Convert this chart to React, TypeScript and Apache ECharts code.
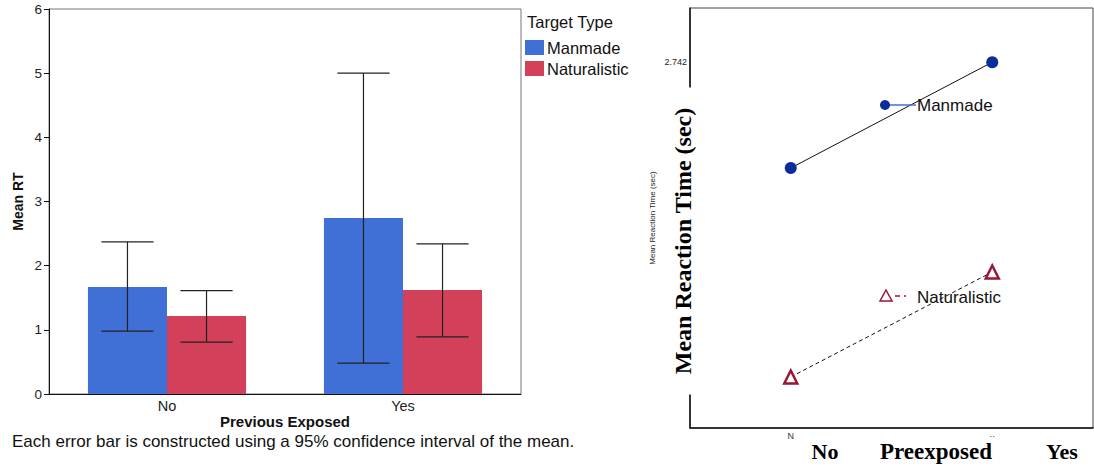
import React, { useEffect, useRef } from "react";
import * as echarts from "echarts";

const categories = ["No", "Yes"];
const seriesNames = ["Manmade", "Naturalistic"];
const manmadeMeans = [1.667, 2.742];
const naturalMeans = [1.215, 1.62];
const manmadeLow = [0.98, 0.48];
const manmadeHigh = [2.37, 5.0];
const naturalLow = [0.81, 0.89];
const naturalHigh = [1.61, 2.34];
const leftTicks = [0, 1, 2, 3, 4, 5, 6];

// right panel (profile plot)
const profileManmade = [2.238, 2.742];
const profileNatural = [1.243, 1.743];
const profileTickValues = [2.742];
const profileXLabels = ["N", "··"];
const bigXLabels = ["No", "Preexposed", "Yes"];

const BLUE = "#4070D6";
const RED = "#D2405A";
const SANS = "Liberation Sans, Arial, Helvetica, sans-serif";
const SERIF = "Liberation Serif, Times New Roman, serif";

export default function App() {
  const ref = useRef<HTMLDivElement>(null);
  useEffect(() => {
    if (!ref.current) return;
    const chart = echarts.init(ref.current, undefined, { renderer: "svg" });
    const errData: number[][] = [];
    categories.forEach((_, i) => {
      errData.push([i, manmadeLow[i], manmadeHigh[i], 0]);
      errData.push([i, naturalLow[i], naturalHigh[i], 1]);
    });
    const option: any = {
      animation: false,
      backgroundColor: "#fff",
      textStyle: { fontFamily: SANS },
      grid: [
        { left: 49, top: 9, right: 573, bottom: 81, show: true, borderColor: "#777", borderWidth: 1, backgroundColor: "transparent" },
        { left: 690, top: 8, right: 1, bottom: 47, show: true, borderColor: "#444", borderWidth: 1, backgroundColor: "transparent" },
      ],
      legend: {
        data: seriesNames,
        orient: "vertical",
        left: 520,
        top: 34,
        itemWidth: 19,
        itemHeight: 15,
        itemGap: 4,
        icon: "rect",
        textStyle: { fontSize: 16.5, color: "#111", fontFamily: SANS, padding: [0, 0, 0, -2] },
      },
      xAxis: [
        {
          gridIndex: 0,
          type: "category",
          data: categories,
          axisLine: { lineStyle: { color: "#111" } },
          axisTick: { show: false },
          axisLabel: { fontSize: 14.5, color: "#222", margin: 4 },
          name: "Previous Exposed",
          nameLocation: "middle",
          nameGap: 20,
          nameMoveOverlap: false,
          nameTextStyle: { fontSize: 15, fontWeight: "bold", color: "#111" },
        },
        {
          gridIndex: 1,
          type: "category",
          data: categories,
          axisLine: { lineStyle: { color: "#111", width: 1.5 } },
          axisTick: { show: false },
          axisLabel: {
            fontSize: 9,
            color: "#333",
            margin: 3,
            formatter: (_v: string, i: number) => profileXLabels[i],
          },
        },
      ],
      yAxis: [
        {
          gridIndex: 0,
          type: "value",
          min: leftTicks[0],
          max: leftTicks[leftTicks.length - 1],
          interval: 1,
          splitLine: { show: false },
          axisLine: { show: true, lineStyle: { color: "#111" } },
          axisTick: { show: true, length: 5, lineStyle: { color: "#111" } },
          axisLabel: { fontSize: 13.5, color: "#222", margin: 7 },
          name: "Mean RT",
          nameLocation: "middle",
          nameGap: 24,
          nameTextStyle: { fontSize: 14, fontWeight: "bold", color: "#111" },
        },
        {
          gridIndex: 1,
          type: "value",
          min: 1,
          max: 3,
          splitLine: { show: false },
          axisLine: { show: true, lineStyle: { color: "#111", width: 1.5 } },
          axisTick: { show: false },
          axisLabel: {
            fontSize: 9,
            color: "#222",
            margin: 3,
            customValues: profileTickValues,
            formatter: (v: number) => v.toFixed(3),
          },
          name: "Mean Reaction Time (sec)",
          nameLocation: "middle",
          nameGap: 34,
          nameTextStyle: { fontSize: 8, color: "#222" },
        },
      ],
      series: [
        {
          name: seriesNames[0],
          type: "bar",
          xAxisIndex: 0,
          yAxisIndex: 0,
          data: manmadeMeans,
          itemStyle: { color: BLUE },
          barGap: "0%",
          barCategoryGap: "33%",
        },
        {
          name: seriesNames[1],
          type: "bar",
          xAxisIndex: 0,
          yAxisIndex: 0,
          data: naturalMeans,
          itemStyle: { color: RED },
          barGap: "0%",
          barCategoryGap: "33%",
        },
        {
          type: "custom",
          xAxisIndex: 0,
          yAxisIndex: 0,
          data: errData,
          z: 10,
          renderItem: (_p: any, api: any) => {
            const cat = api.value(0);
            const lo = api.value(1);
            const hi = api.value(2);
            const s = api.value(3);
            const band = api.size([1, 0])[0];
            const barW = (band * 0.67) / 2;
            const cx = api.coord([cat, 0])[0] + (s === 0 ? -barW / 2 : barW / 2);
            const yLo = api.coord([cat, lo])[1];
            const yHi = api.coord([cat, hi])[1];
            const half = barW * 0.33;
            const st = { stroke: "#222", lineWidth: 1.2 };
            return {
              type: "group",
              children: [
                { type: "line", shape: { x1: cx, y1: yLo, x2: cx, y2: yHi }, style: st },
                { type: "line", shape: { x1: cx - half, y1: yHi, x2: cx + half, y2: yHi }, style: st },
                { type: "line", shape: { x1: cx - half, y1: yLo, x2: cx + half, y2: yLo }, style: st },
              ],
            };
          },
        },
        {
          name: "Manmade profile",
          type: "line",
          xAxisIndex: 1,
          yAxisIndex: 1,
          data: profileManmade,
          symbol: "circle",
          symbolSize: 12,
          itemStyle: { color: "#0B2D9A" },
          lineStyle: { color: "#111", width: 1 },
          z: 5,
        },
        {
          name: "Naturalistic profile",
          type: "line",
          xAxisIndex: 1,
          yAxisIndex: 1,
          data: profileNatural,
          symbol: "triangle",
          symbolSize: 13,
          itemStyle: { color: "#fff", borderColor: "#9B1535", borderWidth: 2.5 },
          lineStyle: { color: "#111", width: 1, type: [4, 3] },
          z: 5,
        },
      ],
      graphic: [
        { type: "text", left: 527, top: 13, style: { text: "Target Type", fontSize: 16.5, fill: "#111", fontFamily: SANS } },
        {
          type: "text",
          x: 12,
          y: 441,
          style: {
            text: "Each error bar is constructed using a 95% confidence interval of the mean.",
            fontSize: 17,
            fill: "#111",
            fontFamily: SANS,
            verticalAlign: "middle",
          },
        },
        {
          type: "text",
          x: 683,
          y: 241,
          rotation: Math.PI / 2,
          z: 100,
          style: {
            text: "Mean Reaction Time (sec)",
            fontSize: 24,
            fontWeight: "bold",
            fontFamily: SERIF,
            fill: "#000",
            align: "center",
            verticalAlign: "middle",
            backgroundColor: "#fff",
            padding: [0, 20, 0, 20],
          },
        },
        { type: "text", x: 825, y: 451, style: { text: bigXLabels[0], fontSize: 22, fontWeight: "bold", fontFamily: SERIF, fill: "#000", align: "center", verticalAlign: "middle" } },
        { type: "text", x: 936, y: 451, style: { text: bigXLabels[1], fontSize: 23, fontWeight: "bold", fontFamily: SERIF, fill: "#000", align: "center", verticalAlign: "middle" } },
        { type: "text", x: 1062, y: 451, style: { text: bigXLabels[2], fontSize: 22, fontWeight: "bold", fontFamily: SERIF, fill: "#000", align: "center", verticalAlign: "middle" } },
        // in-plot legend (right panel)
        { type: "line", z: 20, shape: { x1: 885, y1: 105, x2: 916, y2: 105 }, style: { stroke: "#4A6BD0", lineWidth: 1.5 } },
        { type: "circle", z: 21, shape: { cx: 885, cy: 105, r: 5 }, style: { fill: "#0B2D9A" } },
        { type: "text", z: 21, x: 917, y: 105, style: { text: "Manmade", fontSize: 17, fill: "#111", fontFamily: SANS, verticalAlign: "middle" } },
        { type: "line", z: 20, shape: { x1: 895, y1: 296, x2: 906, y2: 296 }, style: { stroke: "#9B1535", lineWidth: 1.3, lineDash: [5, 4] } },
        { type: "polygon", z: 21, shape: { points: [[886, 290], [880, 301], [892, 301]] }, style: { fill: "#fff", stroke: "#9B1535", lineWidth: 1.5 } },
        { type: "text", z: 21, x: 917, y: 297, style: { text: "Naturalistic", fontSize: 17, fill: "#111", fontFamily: SANS, verticalAlign: "middle" } },
      ],
    };
    chart.setOption(option);
    return () => chart.dispose();
  }, []);
  return (
    <div
      ref={ref}
      style={{ position: "absolute", left: 0, top: 0, width: 1094, height: 475, background: "#fff" }}
    />
  );
}
